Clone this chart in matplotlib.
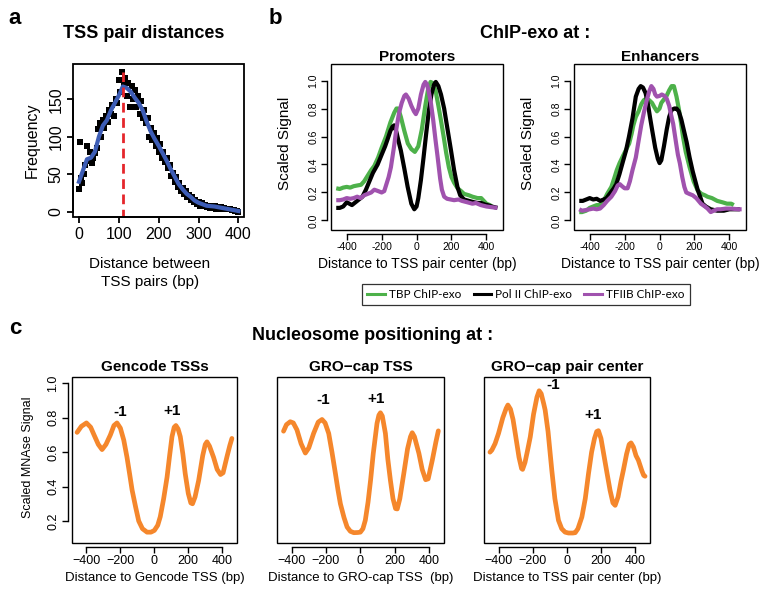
import matplotlib
matplotlib.use('Agg')
import matplotlib.pyplot as plt
from matplotlib.patches import Rectangle
from matplotlib.lines import Line2D

plt.rcParams['font.family'] = ['Liberation Sans', 'DejaVu Sans']

W, H = 776, 594

# ---- panel a: TSS pair distance histogram ----
hist_x = [0, 2, 4, 8, 12, 16, 20, 24, 28, 32, 36, 40, 44, 48, 52, 56, 60, 64, 68, 72, 76,
          80, 84, 88, 92, 96, 100, 104, 108, 112, 116, 120, 124, 128, 132, 136, 140, 144,
          148, 152, 156, 160, 164, 168, 172, 176, 180, 184, 188, 192, 196, 200, 204, 208,
          212, 216, 220, 224, 228, 232, 236, 240, 244, 248, 252, 256, 260, 264, 268, 272,
          276, 280, 284, 288, 292, 296, 300, 304, 308, 312, 316, 320, 324, 328, 332, 336,
          340, 344, 348, 352, 356, 360, 364, 368, 372, 376, 380, 384, 388, 392, 396, 400]
hist_y = [30, 93, 45, 38, 50, 62, 88, 68, 80, 65, 72, 78, 85, 110, 118, 100, 122, 112, 128,
          120, 135, 130, 142, 128, 150, 145, 176, 160, 187, 170, 178, 155, 172, 140, 168, 150,
          162, 140, 155, 130, 148, 125, 135, 118, 125, 100, 112, 95, 105, 88, 98, 80, 90, 72,
          80, 66, 72, 58, 62, 48, 52, 40, 46, 33, 38, 28, 32, 24, 27, 20, 22, 16, 19, 13, 15,
          10, 13, 8, 11, 7, 9, 6, 8, 5, 7, 5, 7, 4, 6, 5, 6, 4, 5, 3, 4, 3, 3, 2, 2, 1, 1, 0]
smooth_x = [0, 10, 20, 30, 40, 50, 60, 70, 80, 90, 100, 110, 120, 130, 140, 150, 160, 170,
            180, 190, 200, 210, 220, 230, 240, 250, 260, 270, 280, 290, 300, 320, 340, 360,
            380, 400]
smooth_y = [40, 55, 70, 72, 80, 100, 115, 122, 135, 145, 155, 167, 165, 160, 152, 145, 135,
            120, 107, 97, 88, 78, 68, 57, 47, 37, 30, 24, 20, 15, 12, 8, 7, 5, 3, 1]
peak_x = 110
peak_top = 186

# ---- panel b: ChIP-exo profiles ----
prom_tbp_x = [-460, -440, -420, -400, -380, -360, -340, -318, -300, -280, -260, -242, -220,
              -200, -175, -150, -128, -115, -105, -90, -70, -50, -30, -10, 10, 30, 50, 65,
              80, 95, 110, 125, 139, 155, 170, 185, 200, 215, 235, 255, 272, 300, 320, 349,
              370, 385, 400, 420, 430]
prom_tbp_y = [0.23, 0.225, 0.235, 0.24, 0.235, 0.245, 0.25, 0.255, 0.28, 0.32, 0.36, 0.39,
              0.45, 0.52, 0.60, 0.70, 0.77, 0.80, 0.80, 0.74, 0.64, 0.55, 0.51, 0.49, 0.53,
              0.65, 0.82, 0.93, 0.99, 0.98, 0.92, 0.82, 0.72, 0.60, 0.48, 0.38, 0.31, 0.27,
              0.23, 0.21, 0.19, 0.18, 0.17, 0.16, 0.16, 0.14, 0.12, 0.11, 0.10]
prom_pol_x = [-460, -440, -420, -400, -385, -370, -350, -330, -310, -290, -270, -250, -223,
              -200, -180, -166, -150, -138, -128, -115, -100, -90, -70, -51, -30, -13, 0, 10,
              25, 40, 55, 70, 85, 100, 110, 125, 140, 158, 175, 196, 215, 234, 250, 272, 300,
              330, 349, 370, 390, 406, 430, 463]
prom_pol_y = [0.09, 0.09, 0.10, 0.13, 0.12, 0.11, 0.13, 0.15, 0.17, 0.22, 0.28, 0.34, 0.40,
              0.47, 0.53, 0.58, 0.64, 0.67, 0.68, 0.63, 0.55, 0.50, 0.37, 0.24, 0.12, 0.08,
              0.10, 0.16, 0.29, 0.45, 0.62, 0.78, 0.90, 0.97, 0.99, 0.96, 0.90, 0.80, 0.67,
              0.51, 0.36, 0.24, 0.18, 0.15, 0.14, 0.13, 0.125, 0.125, 0.115, 0.11, 0.10, 0.09]
prom_tf2b_x = [-460, -440, -420, -400, -380, -360, -340, -320, -300, -280, -260, -242, -220,
               -200, -185, -170, -160, -147, -130, -115, -100, -85, -70, -61, -45, -30, -15,
               -4, 10, 25, 40, 50, 60, 70, 82, 95, 108, 120, 135, 145, 158, 175, 195, 215,
               240, 260, 291, 320, 340, 368, 400, 430, 463]
prom_tf2b_y = [0.145, 0.145, 0.15, 0.16, 0.155, 0.16, 0.17, 0.16, 0.18, 0.19, 0.20, 0.22,
               0.21, 0.20, 0.21, 0.27, 0.31, 0.38, 0.52, 0.66, 0.77, 0.84, 0.89, 0.90, 0.87,
               0.82, 0.78, 0.76, 0.80, 0.90, 0.97, 0.99, 0.97, 0.92, 0.84, 0.72, 0.58, 0.46,
               0.30, 0.22, 0.17, 0.155, 0.15, 0.145, 0.15, 0.14, 0.13, 0.12, 0.125, 0.11,
               0.10, 0.095, 0.09]

enh_tbp_x = [-460, -444, -420, -400, -380, -360, -341, -320, -300, -276, -260, -245, -229,
             -210, -190, -174, -160, -150, -136, -120, -105, -90, -75, -60, -43, -30, -15, 0,
             10, 22, 40, 55, 69, 82, 97, 110, 120, 134, 150, 172, 195, 218, 240, 260, 274,
             300, 330, 360, 386, 410, 425]
enh_tbp_y = [0.06, 0.06, 0.07, 0.09, 0.10, 0.11, 0.11, 0.14, 0.19, 0.24, 0.30, 0.36, 0.41,
             0.46, 0.51, 0.55, 0.62, 0.68, 0.74, 0.78, 0.83, 0.86, 0.87, 0.86, 0.84, 0.81,
             0.78, 0.80, 0.84, 0.86, 0.89, 0.93, 0.96, 0.96, 0.885, 0.80, 0.72, 0.60, 0.49,
             0.38, 0.28, 0.215, 0.19, 0.18, 0.17, 0.16, 0.14, 0.13, 0.12, 0.12, 0.11]
enh_pol_x = [-460, -440, -420, -400, -380, -360, -340, -320, -304, -280, -262, -248, -230,
             -210, -192, -175, -155, -136, -120, -108, -95, -80, -65, -55, -43, -25, -10, 0,
             10, 25, 41, 55, 69, 85, 97, 110, 125, 140, 155, 172, 190, 205, 218, 235, 246,
             265, 293, 330, 368, 400, 430, 460]
enh_pol_y = [0.14, 0.14, 0.15, 0.16, 0.15, 0.155, 0.14, 0.15, 0.16, 0.20, 0.23, 0.26, 0.33,
             0.42, 0.50, 0.60, 0.73, 0.885, 0.94, 0.96, 0.95, 0.91, 0.82, 0.74, 0.65, 0.52,
             0.44, 0.41, 0.43, 0.53, 0.65, 0.74, 0.79, 0.80, 0.80, 0.78, 0.72, 0.64, 0.56,
             0.45, 0.35, 0.28, 0.22, 0.16, 0.12, 0.10, 0.08, 0.07, 0.07, 0.08, 0.08, 0.08]
enh_tf2b_x = [-460, -444, -420, -400, -380, -360, -341, -320, -300, -276, -255, -240, -228,
              -215, -200, -183, -170, -155, -136, -120, -105, -90, -75, -60, -47, -35, -25,
              -15, 0, 13, 28, 41, 55, 65, 78, 95, 105, 116, 130, 142, 153, 170, 190, 210, 237,
              260, 275, 293, 310, 330, 349, 380, 410, 451, 470]
enh_tf2b_y = [0.08, 0.07, 0.075, 0.08, 0.085, 0.08, 0.085, 0.11, 0.14, 0.17, 0.21, 0.25,
              0.26, 0.245, 0.23, 0.23, 0.28, 0.36, 0.45, 0.57, 0.68, 0.77, 0.85, 0.92, 0.96,
              0.94, 0.90, 0.885, 0.89, 0.90, 0.89, 0.87, 0.82, 0.76, 0.69, 0.55, 0.47, 0.41,
              0.31, 0.24, 0.20, 0.19, 0.18, 0.16, 0.12, 0.10, 0.085, 0.06, 0.07, 0.08, 0.08,
              0.085, 0.085, 0.08, 0.08]

# ---- panel c: nucleosome (MNase) profiles ----
genc_x = [-455, -430, -400, -375, -355, -330, -308, -285, -259, -238, -220, -200, -180, -161,
          -145, -131, -110, -92, -70, -43, -20, 0, 20, 35, 55, 75, 90, 104, 117, 127, 140,
          153, 168, 182, 200, 215, 225, 240, 261, 285, 300, 310, 325, 349, 370, 390, 405,
          427, 445, 457]
genc_y = [0.715, 0.75, 0.77, 0.745, 0.70, 0.645, 0.615, 0.645, 0.70, 0.755, 0.77, 0.74, 0.67,
          0.57, 0.47, 0.38, 0.28, 0.20, 0.155, 0.135, 0.135, 0.145, 0.175, 0.225, 0.33, 0.455,
          0.58, 0.69, 0.745, 0.755, 0.735, 0.69, 0.59, 0.475, 0.36, 0.305, 0.30, 0.34, 0.435,
          0.58, 0.645, 0.66, 0.635, 0.57, 0.50, 0.47, 0.48, 0.57, 0.64, 0.68]
gro_x = [-447, -430, -408, -390, -369, -345, -320, -300, -272, -245, -223, -205, -184, -165,
         -145, -130, -116, -95, -77, -58, -38, -15, 0, 15, 29, 45, 60, 75, 97, 108, 117, 128,
         146, 160, 175, 190, 205, 215, 230, 253, 275, 292, 302, 315, 341, 360, 380, 395, 419,
         440, 454]
gro_y = [0.722, 0.76, 0.777, 0.77, 0.73, 0.65, 0.595, 0.625, 0.709, 0.775, 0.79, 0.77, 0.709,
         0.60, 0.476, 0.38, 0.30, 0.22, 0.165, 0.14, 0.132, 0.133, 0.135, 0.155, 0.204, 0.31,
         0.44, 0.59, 0.767, 0.815, 0.829, 0.81, 0.709, 0.56, 0.437, 0.33, 0.272, 0.27, 0.33,
         0.476, 0.62, 0.69, 0.713, 0.69, 0.593, 0.50, 0.44, 0.445, 0.554, 0.66, 0.724]
pair_x = [-450, -439, -420, -400, -375, -355, -345, -330, -315, -302, -280, -265, -259, -245,
          -230, -214, -195, -175, -162, -150, -135, -127, -110, -88, -70, -49, -30, -10, 10, 35,
          49, 65, 88, 108, 127, 145, 162, 175, 185, 200, 214, 235, 253, 270, 283, 300, 317,
          331, 350, 365, 376, 390, 405, 419, 440, 450, 458]
pair_y = [0.60, 0.612, 0.65, 0.709, 0.80, 0.855, 0.874, 0.85, 0.79, 0.709, 0.57, 0.505, 0.50,
          0.54, 0.61, 0.689, 0.82, 0.92, 0.957, 0.94, 0.88, 0.845, 0.72, 0.495, 0.33, 0.204,
          0.155, 0.135, 0.13, 0.13, 0.132, 0.155, 0.223, 0.33, 0.476, 0.60, 0.68, 0.72, 0.725,
          0.68, 0.60, 0.48, 0.379, 0.305, 0.291, 0.34, 0.43, 0.495, 0.59, 0.645, 0.654, 0.63,
          0.58, 0.553, 0.49, 0.465, 0.46]
nuc_labels = ['-1', '+1']
genc_lab_x, genc_lab_y = [-200, 104], [0.835, 0.84]
gro_lab_x, gro_lab_y = [-214, 94], [0.903, 0.907]
pair_lab_x, pair_lab_y = [-78, 156], [0.99, 0.815]

b_ticks = [-400, -200, 0, 200, 400]
b_ticklabels = ['-400', '-200', '0', '200', '400']
c_ticklabels = ['\u2212400', '\u2212200', '0', '200', '400']
sig_ticks = [0.0, 0.2, 0.4, 0.6, 0.8, 1.0]
mn_ticks = [0.2, 0.4, 0.6, 0.8, 1.0]

GREEN = '#4db14a'
PURPLE = '#a052ae'
ORANGE = '#f5872c'
BLUE = '#3d5db6'
RED = '#e5262b'


def box(l, t, r, b):
    return [l / W, 1 - b / H, (r - l) / W, (b - t) / H]


def fx(x):
    return x / W


def fy(y):
    return 1 - y / H


def r_style(ax, xbounds, ybounds=None, off=3, lw=1.0):
    # box round the plot, axes drawn a little outside like R does
    ax.add_patch(Rectangle((0, 0), 1, 1, transform=ax.transAxes, fill=False,
                           lw=lw, ec='black', clip_on=False, zorder=5))
    ax.spines['top'].set_visible(False)
    ax.spines['right'].set_visible(False)
    ax.spines['bottom'].set_position(('outward', off))
    ax.spines['bottom'].set_bounds(*xbounds)
    ax.spines['bottom'].set_linewidth(lw)
    if ybounds is None:
        ax.spines['left'].set_visible(False)
        ax.set_yticks([])
    else:
        ax.spines['left'].set_position(('outward', off))
        ax.spines['left'].set_bounds(*ybounds)
        ax.spines['left'].set_linewidth(lw)
    ax.tick_params(direction='out', length=4, width=lw)


fig = plt.figure(figsize=(W / 100, H / 100), dpi=100)

# panel a
ax = fig.add_axes(box(73, 64, 244, 217))
ax.plot(hist_x, hist_y, 's', color='black', ms=4.3, mew=0)
ax.plot(smooth_x, smooth_y, color=BLUE, lw=3.0)
ax.vlines(peak_x, -10, peak_top, colors=RED, linestyles=(0, (3.5, 2)), lw=2.0)
ax.set_xlim(-15, 414)
ax.set_ylim(-7, 197)
ax.set_xticks([0, 100, 200, 300, 400])
ax.set_yticks([0, 50, 100, 150])
r_style(ax, (0, 400), (0, 150), off=0, lw=1.3)
ax.tick_params(labelsize=11.5, pad=3)
plt.setp(ax.get_yticklabels(), rotation=90, va='center')
fig.text(fx(144), fy(33), 'TSS pair distances', ha='center', va='center',
         fontsize=13, fontweight='bold')
fig.text(fx(32), fy(140), 'Frequency', rotation=90, ha='center', va='center', fontsize=11.5)
fig.text(fx(150), fy(273), 'Distance between\nTSS pairs (bp)', ha='center', va='center',
         fontsize=11, linespacing=1.3)

# panel b
b_panels = [
    ('Promoters', box(331, 64, 503, 230),
     [(prom_tbp_x, prom_tbp_y, GREEN), (prom_pol_x, prom_pol_y, 'black'),
      (prom_tf2b_x, prom_tf2b_y, PURPLE)]),
    ('Enhancers', box(574, 64, 746, 230),
     [(enh_tbp_x, enh_tbp_y, GREEN), (enh_pol_x, enh_pol_y, 'black'),
      (enh_tf2b_x, enh_tf2b_y, PURPLE)]),
]
for name, pos, series in b_panels:
    ax = fig.add_axes(pos)
    for xs, ys, col in series:
        ax.plot(xs, ys, color=col, lw=3.0, solid_capstyle='butt')
    ax.set_xlim(-490, 495)
    ax.set_ylim(-0.068, 1.118)
    ax.set_xticks(b_ticks)
    ax.set_xticklabels(b_ticklabels)
    ax.set_yticks(sig_ticks)
    ax.set_yticklabels(['%.1f' % v for v in sig_ticks])
    r_style(ax, (-400, 400), (0, 1))
    ax.tick_params(labelsize=7.5, pad=2)
    plt.setp(ax.get_yticklabels(), rotation=90, va='center')
    cx = (pos[0] + pos[2] / 2)
    ax.set_title(name, fontsize=11, fontweight='bold', pad=1)
    fig.text(cx, fy(264), 'Distance to TSS pair center (bp)', ha='center', va='center',
             fontsize=10)
    fig.text(pos[0] - fx(46), fy(143), 'Scaled Signal', rotation=90, ha='center',
             va='center', fontsize=11)
fig.text(fx(535), fy(33), 'ChIP-exo at :', ha='center', va='center', fontsize=13,
         fontweight='bold')
handles = [Line2D([], [], color=GREEN, lw=2.2), Line2D([], [], color='black', lw=2.2),
           Line2D([], [], color=PURPLE, lw=2.2)]
leg = fig.legend(handles, ['TBP ChIP-exo', 'Pol II ChIP-exo', 'TFIIB ChIP-exo'], ncol=3,
                 loc='center', bbox_to_anchor=(fx(526), fy(294.5)), frameon=True,
                 fancybox=False, edgecolor='black', handlelength=1.5,
                 handletextpad=0.35, columnspacing=1.0, borderpad=0.45,
                 prop={'family': 'Lato', 'size': 8.5})
leg.get_frame().set_linewidth(0.9)

# panel c
c_panels = [
    ('Gencode TSSs', box(72, 377, 237, 543), genc_x, genc_y, genc_lab_x, genc_lab_y,
     'Distance to Gencode TSS (bp)', True),
    ('GRO\u2212cap TSS', box(277, 377, 444, 543), gro_x, gro_y, gro_lab_x, gro_lab_y,
     'Distance to GRO-cap TSS  (bp)', False),
    ('GRO\u2212cap pair center', box(484, 377, 650, 543), pair_x, pair_y, pair_lab_x,
     pair_lab_y, 'Distance to TSS pair center (bp)', False),
]
for name, pos, xs, ys, lx, ly, xlab, has_y in c_panels:
    ax = fig.add_axes(pos)
    ax.plot(xs, ys, color=ORANGE, lw=3.4, solid_capstyle='round')
    for t, x, y in zip(nuc_labels, lx, ly):
        ax.text(x, y, t, ha='center', va='center', fontsize=11, fontweight='bold')
    ax.set_xlim(-485, 487)
    ax.set_ylim(0.072, 1.037)
    ax.set_xticks(b_ticks)
    ax.set_xticklabels(c_ticklabels)
    if has_y:
        ax.set_yticks(mn_ticks)
        ax.set_yticklabels(['%.1f' % v for v in mn_ticks])
        r_style(ax, (-400, 400), (0.2, 1.0))
        plt.setp(ax.get_yticklabels(), rotation=90, va='center')
    else:
        r_style(ax, (-400, 400), None)
    ax.tick_params(labelsize=9, pad=2)
    ax.set_title(name, fontsize=11, fontweight='bold', pad=4)
    fig.text(pos[0] + pos[2] / 2, fy(578), xlab, ha='center', va='center', fontsize=9.5)
fig.text(fx(28), fy(457), 'Scaled MNAse Signal', rotation=90, ha='center', va='center',
         fontsize=9)
fig.text(fx(373), fy(335), 'Nucleosome positioning at :', ha='center', va='center',
         fontsize=13, fontweight='bold')

# panel letters
for letter, x, y in [('a', 15, 18), ('b', 275, 18), ('c', 15, 328)]:
    fig.text(fx(x), fy(y), letter, ha='center', va='center', fontsize=16, fontweight='bold')

fig.savefig('out.png', dpi=100)
